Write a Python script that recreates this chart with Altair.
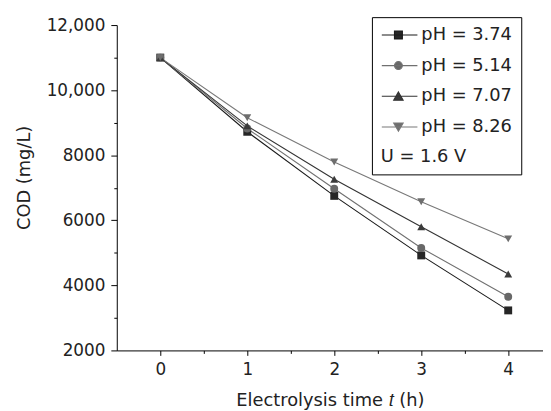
import altair as alt
import pandas as pd

times = [0, 1, 2, 3, 4]
series_names = ["pH = 3.74", "pH = 5.14", "pH = 7.07", "pH = 8.26"]
cod_374 = [11000, 8720, 6750, 4920, 3230]
cod_514 = [11000, 8820, 6970, 5150, 3650]
cod_707 = [11000, 8900, 7260, 5800, 4350]
cod_826 = [11000, 9150, 7790, 6570, 5430]

x_major = [0, 1, 2, 3, 4]
x_minor = [0.5, 1.5, 2.5, 3.5]
y_major = [2000, 4000, 6000, 8000, 10000, 12000]
y_minor = [3000, 5000, 7000, 9000, 11000]

line_colors = ["#1a1a1a", "#707070", "#333333", "#787878"]
marker_colors = ["#262626", "#686868", "#3a3a3a", "#6e6e6e"]
marker_shapes = ["square", "circle", "triangle-up", "triangle-down"]
legend_paths = [
    "M-1,0H3.5M0.6,-0.5H1.6V0.5H0.6Z",
    "M-1,0H3.5M0.6,0A0.5,0.5 0 1,0 1.6,0A0.5,0.5 0 1,0 0.6,0Z",
    "M-1,0H3.5M1.1,-0.55L1.7,0.5H0.5Z",
    "M-1,0H3.5M1.1,0.55L1.7,-0.5H0.5Z",
]

rows = []
for name, vals in zip(series_names, [cod_374, cod_514, cod_707, cod_826]):
    for t, v in zip(times, vals):
        rows.append({"t": t, "cod": v, "series": name})
df = pd.DataFrame(rows)

FONT = "DejaVu Sans"
xs = alt.Scale(domain=[-0.5, 4.4], nice=False, zero=False)
ys = alt.Scale(domain=[2000, 12000], nice=False, zero=False)

base = alt.Chart(df)

lines = base.mark_line(strokeWidth=1.1).encode(
    x=alt.X("t:Q", scale=xs, axis=alt.Axis(
        values=x_major, orient="bottom", grid=False, tickSize=5, tickColor="black",
        domainColor="black", labelFont=FONT, labelFontSize=17, labelColor="#222",
        labelPadding=6, title="Electrolysis time 𝑡 (h)", titleFont=FONT,
        titleFontSize=18, titleFontWeight="normal", titleColor="#222", titlePadding=15,
        format="d")),
    y=alt.Y("cod:Q", scale=ys, axis=alt.Axis(
        values=y_major, orient="left", grid=False, tickSize=6, tickColor="black",
        domainColor="black", labelFont=FONT, labelFontSize=17, labelColor="#222",
        labelPadding=6,
        labelExpr="datum.value >= 10000 ? format(datum.value, ',') : format(datum.value, 'd')",
        title="COD (mg/L)", titleFont=FONT, titleFontSize=18, titleFontWeight="normal",
        titleColor="#222", titlePadding=13, titleY=154)),
    color=alt.Color("series:N", scale=alt.Scale(domain=series_names, range=line_colors), legend=None),
    detail="series:N",
)

points = base.mark_point(filled=True, size=64, opacity=1).encode(
    x=alt.X("t:Q", scale=xs, axis=None),
    y=alt.Y("cod:Q", scale=ys, axis=None),
    shape=alt.Shape("series:N", scale=alt.Scale(domain=series_names, range=marker_shapes), legend=None),
    color=alt.Color("series:N", scale=alt.Scale(domain=series_names, range=marker_colors), legend=None),
)

leg = alt.Legend(
    title="U = 1.6 V", titleOrient="bottom", titleAnchor="start", titleFont=FONT,
    titleFontSize=18, titleFontWeight="normal", titleColor="#222", titlePadding=12,
    labelFont=FONT, labelFontSize=18, labelColor="#222", labelOffset=23,
    symbolSize=256, symbolStrokeWidth=1.1, symbolOpacity=1, rowPadding=13,
    orient="none", legendX=258, legendY=-8, padding=9,
    strokeColor="black", fillColor="white",
)

legend_layer = base.mark_point(opacity=0).encode(
    x=alt.X("t:Q", scale=xs, axis=None),
    y=alt.Y("cod:Q", scale=ys, axis=None),
    shape=alt.Shape("series:N", scale=alt.Scale(domain=series_names, range=legend_paths), legend=leg),
    fill=alt.Fill("series:N", scale=alt.Scale(domain=series_names, range=marker_colors), legend=leg),
    stroke=alt.Stroke("series:N", scale=alt.Scale(domain=series_names, range=line_colors), legend=leg),
)

minor = base.mark_point(opacity=0).encode(
    x=alt.X("t:Q", scale=xs, axis=alt.Axis(values=x_minor, orient="bottom", labels=False,
                                            domain=False, grid=False, tickSize=3,
                                            tickColor="black", title=None)),
    y=alt.Y("cod:Q", scale=ys, axis=alt.Axis(values=y_minor, orient="left", labels=False,
                                              domain=False, grid=False, tickSize=3,
                                              tickColor="black", title=None)),
)

chart = alt.layer(lines, points, legend_layer, minor).resolve_scale(
    color="independent", shape="independent", fill="independent", stroke="independent"
).resolve_axis(x="independent", y="independent").properties(
    width=431, height=329,
    padding={"left": 110, "top": 15, "right": 0, "bottom": 58},
    autosize=alt.AutoSizeParams(type="none"),
    background="white",
).configure_view(stroke=None)

chart.save("out.html", embed_options={"renderer": "svg", "actions": False})
